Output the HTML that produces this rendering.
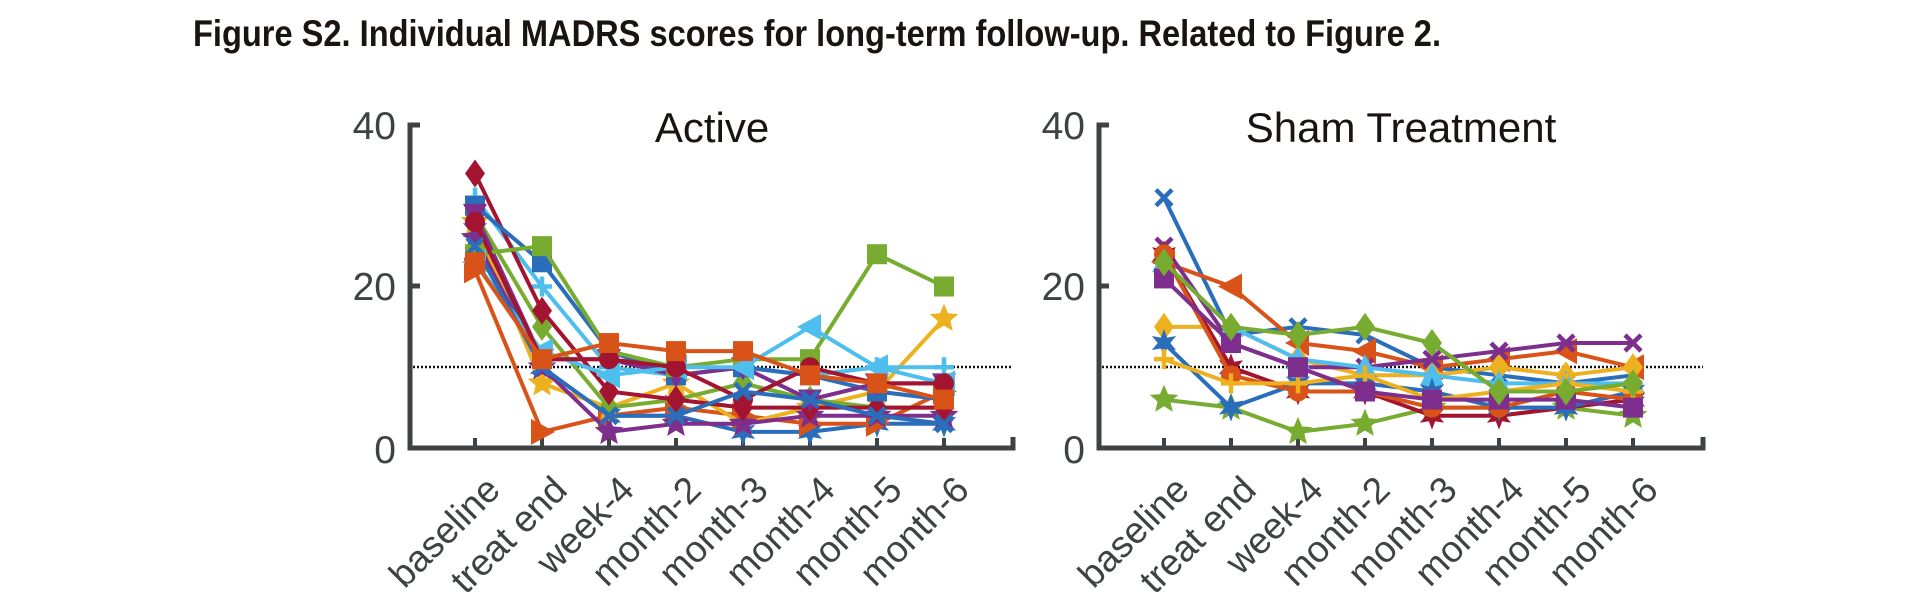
<!DOCTYPE html>
<html><head><meta charset="utf-8"><style>
html,body{margin:0;padding:0;background:#fff;}
svg{display:block;}
text{font-family:"Liberation Sans",Arial,sans-serif;}
</style></head><body>
<svg id="s" width="1905" height="601" viewBox="0 0 1905 601" xmlns="http://www.w3.org/2000/svg">
<text x="193" y="46" font-size="37" font-weight="bold" fill="#1a1410" textLength="1248" lengthAdjust="spacingAndGlyphs">Figure S2. Individual MADRS scores for long-term follow-up. Related to Figure 2.</text>
<g stroke="#3f4245" stroke-width="5" fill="none">
<path d="M420,125 H410 V448 H1013 V437"/>
<path d="M410,286 H420"/>
<path d="M1109,125 H1099 V448 H1703 V437"/>
<path d="M1099,286 H1109"/>
</g>
<g stroke="#3f4245" stroke-width="4" id="ticks"></g>
<g stroke="#111" stroke-width="2.5" stroke-dasharray="2,2">
<line x1="413" y1="367" x2="1013" y2="367"/>
<line x1="1102" y1="367" x2="1703" y2="367"/>
</g>
<g font-size="39" fill="#3f4245" text-anchor="end">
<text x="396" y="139">40</text><text x="396" y="300">20</text><text x="396" y="463">0</text>
<text x="1085" y="139">40</text><text x="1085" y="300">20</text><text x="1085" y="463">0</text>
</g>
<g font-size="42" fill="#1a1410" text-anchor="middle">
<text x="712" y="142">Active</text>
<text x="1401" y="142">Sham Treatment</text>
</g>
<g font-size="37" fill="#3f4245" text-anchor="end">
<g transform="translate(502,492) rotate(-45)"><text>baseline</text></g>
<g transform="translate(569,492) rotate(-45)"><text>treat end</text></g>
<g transform="translate(636,492) rotate(-45)"><text>week-4</text></g>
<g transform="translate(703,492) rotate(-45)"><text>month-2</text></g>
<g transform="translate(770,492) rotate(-45)"><text>month-3</text></g>
<g transform="translate(837,492) rotate(-45)"><text>month-4</text></g>
<g transform="translate(904,492) rotate(-45)"><text>month-5</text></g>
<g transform="translate(971,492) rotate(-45)"><text>month-6</text></g>
<g transform="translate(1191,492) rotate(-45)"><text>baseline</text></g>
<g transform="translate(1258,492) rotate(-45)"><text>treat end</text></g>
<g transform="translate(1325,492) rotate(-45)"><text>week-4</text></g>
<g transform="translate(1392,492) rotate(-45)"><text>month-2</text></g>
<g transform="translate(1459,492) rotate(-45)"><text>month-3</text></g>
<g transform="translate(1526,492) rotate(-45)"><text>month-4</text></g>
<g transform="translate(1593,492) rotate(-45)"><text>month-5</text></g>
<g transform="translate(1660,492) rotate(-45)"><text>month-6</text></g>
</g>
<g id="data"></g>
</svg>
<script>
var NS="http://www.w3.org/2000/svg";
var B="#2a6ebb",O="#d95319",Y="#edb120",P="#7e2f8e",G="#77ac30",L="#4dbeee",R="#a2142f";
function yv(v){return 448-v*8.075;}
var tk=document.getElementById("ticks");
function line(g,x1,y1,x2,y2){var l=document.createElementNS(NS,"line");l.setAttribute("x1",x1);l.setAttribute("y1",y1);l.setAttribute("x2",x2);l.setAttribute("y2",y2);g.appendChild(l);}
for(var i=0;i<8;i++){line(tk,475+67*i,448,475+67*i,438);line(tk,1164+67*i,448,1164+67*i,438);}
function star(cx,cy,r,n){var p=[];for(var k=0;k<2*n;k++){var a=-Math.PI/2+k*Math.PI/n;var rr=k%2?r*0.45:r;p.push((cx+rr*Math.cos(a)).toFixed(1)+","+(cy+rr*Math.sin(a)).toFixed(1));}return p.join(" ");}
function marker(g,m,x,y,c){
 var e,s=10;
 if(m=="s"){e=document.createElementNS(NS,"rect");e.setAttribute("x",x-s);e.setAttribute("y",y-s);e.setAttribute("width",2*s);e.setAttribute("height",2*s);e.setAttribute("fill",c);}
 else if(m=="o"){e=document.createElementNS(NS,"circle");e.setAttribute("cx",x);e.setAttribute("cy",y);e.setAttribute("r",s);e.setAttribute("fill",c);}
 else if(m=="x"||m=="+"){e=document.createElementNS(NS,"path");var d=m=="x"?"M"+(x-8)+","+(y-8)+"L"+(x+8)+","+(y+8)+"M"+(x-8)+","+(y+8)+"L"+(x+8)+","+(y-8):"M"+(x-10)+","+y+"H"+(x+10)+"M"+x+","+(y-10)+"V"+(y+10);e.setAttribute("d",d);e.setAttribute("stroke",c);e.setAttribute("stroke-width",4.5);}
 else{e=document.createElementNS(NS,"polygon");var pts;
  if(m=="d")pts=[x,y-14,x+10,y,x,y+14,x-10,y];
  else if(m=="<")pts=[x-13,y,x+11,y-13,x+11,y+13];
  else if(m==">")pts=[x+13,y,x-11,y-13,x-11,y+13];
  else if(m=="v")pts=[x,y+13,x-12,y-10,x+12,y-10];
  else if(m=="^")pts=[x,y-13,x-12,y+10,x+12,y+10];
  if(m=="p"){e.setAttribute("points",star(x,y,15,5));}
  else if(m=="h"){e.setAttribute("points",star(x,y,14,6));}
  else e.setAttribute("points",pts.join(" "));
  e.setAttribute("fill",c);}
 g.appendChild(e);}
var g=document.getElementById("data");
function series(x0,vals,c,m){
 var pts=vals.map(function(v,i){return (x0+67*i)+","+yv(v).toFixed(1);});
 var pl=document.createElementNS(NS,"polyline");pl.setAttribute("points",pts.join(" "));pl.setAttribute("fill","none");pl.setAttribute("stroke",c);pl.setAttribute("stroke-width",4);g.appendChild(pl);
 vals.forEach(function(v,i){marker(g,m,x0+67*i,yv(v),c);});}
var A=[
[[27,10,4,4,2,2,3,3],B,"h"],
[[22,2,4,5,4,3,3,7],O,">"],
[[28,8,5,8,3,5,7,16],Y,"p"],
[[26,10,2,3,3,4,4,4],P,"p"],
[[29,15,5,6,8,6,5,5],G,"d"],
[[31,20,10,9,10,9,10,10],L,"+"],
[[34,17,7,6,5,5,5,5],R,"d"],
[[30,23,12,9,10,9,7,6],B,"s"],
[[29,11,11,9,10,6,8,8],P,"v"],
[[24,25,12,10,11,11,24,20],G,"s"],
[[23,12,9,10,10,15,10,8],L,"<"],
[[28,11,11,10,6,10,8,8],R,"o"],
[[25,10,4,4,7,6,4,3],B,"x"],
[[23,11,13,12,12,9,8,6],O,"s"]
];
A.forEach(function(a){series(475,a[0],a[1],a[2]);});
var S=[
[[31,14,15,14,10,9,8,9],B,"x"],
[[23,20,13,12,10,11,12,10],O,"<"],
[[15,15,11,9,9,10,9,10],Y,"d"],
[[25,13,10,10,11,12,13,13],P,"x"],
[[6,5,2,3,5,5,5,4],G,"p"],
[[23,15,11,10,9,8,8,8],L,"^"],
[[24,10,7,7,4,4,5,6],R,"h"],
[[13,5,8,8,7,5,5,7],B,"h"],
[[24,9,7,7,5,5,7,6],O,"o"],
[[11,8,8,9,6,7,8,7],Y,"+"],
[[21,13,10,7,6,6,6,5],P,"s"],
[[23,15,14,15,13,7,7,8],G,"d"]
];
S.forEach(function(a){series(1164,a[0],a[1],a[2]);});
</script>
</body></html>
